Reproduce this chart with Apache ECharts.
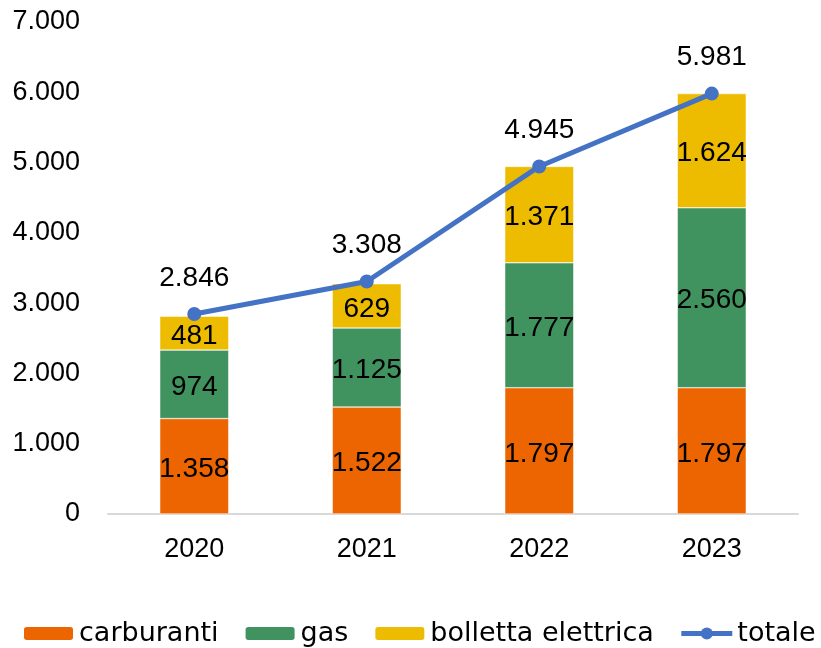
<!DOCTYPE html>
<html>
<head>
<meta charset="utf-8">
<script src="https://cdn.jsdelivr.net/npm/echarts@6/dist/echarts.min.js"></script>
<style>
	html, body { margin: 0; padding: 0; background: #fff; }
	#chart { width: 821px; height: 648px; }
</style>
</head>
<body>
<div id="chart"></div>
<script>
	const anni = ['2020', '2021', '2022', '2023'];
	const carburanti = [1358, 1522, 1797, 1797];
	const gas = [974, 1125, 1777, 2560];
	const bolletta = [481, 629, 1371, 1624];
	const totale = [2846, 3308, 4945, 5981];

	const numFont = '"Liberation Sans", sans-serif';
	const textFont = '"DejaVu Sans", sans-serif';

	// formato italiano: punto per le migliaia
	const fmt = (v) => String(v).replace(/\B(?=(\d{3})+(?!\d))/g, '.');

	const barLabel = {
		show: true,
		position: 'inside',
		offset: [0, 3],
		color: '#000',
		fontSize: 28,
		fontFamily: numFont,
		formatter: (p) => fmt(p.value)
	};

	const myChart = echarts.init(document.getElementById('chart'));
	const option = {
		animation: false,
		textStyle: { fontFamily: numFont },
		grid: {
			left: 108,
			right: 23,
			top: 22,
			bottom: 134,
			containLabel: false
		},
		legend: {
			left: 22,
			top: 620,
			padding: 0,
			itemWidth: 51,
			itemHeight: 15,
			itemGap: 25,
			textStyle: { fontSize: 27, color: '#000', fontFamily: textFont },
			data: ['carburanti', 'gas', 'bolletta elettrica', {
				name: 'totale',
				itemStyle: { color: '#4472c4' },
				lineStyle: { color: '#4472c4', width: 5 }
			}]
		},
		xAxis: {
			type: 'category',
			data: anni,
			axisLine: { lineStyle: { color: '#d9d9d9', width: 2 } },
			axisTick: { show: false },
			axisLabel: { fontSize: 27, color: '#000', margin: 22 }
		},
		yAxis: {
			type: 'value',
			min: 0,
			max: 7000,
			interval: 1000,
			axisLine: { show: false },
			axisTick: { show: false },
			splitLine: { show: false },
			axisLabel: {
				fontSize: 27,
				color: '#000',
				margin: 28,
				formatter: (v) => fmt(v)
			}
		},
		series: [{
				name: 'carburanti',
				type: 'bar',
				stack: 'tot',
				barWidth: '40%',
				data: carburanti,
				itemStyle: { color: '#ec6500', borderColor: '#fff', borderWidth: 0.5 },
				label: barLabel
			},
			{
				name: 'gas',
				type: 'bar',
				stack: 'tot',
				data: gas,
				itemStyle: { color: '#40925e', borderColor: '#fff', borderWidth: 0.5 },
				label: barLabel
			},
			{
				name: 'bolletta elettrica',
				type: 'bar',
				stack: 'tot',
				data: bolletta,
				itemStyle: { color: '#edbc00', borderColor: '#fff', borderWidth: 0.5 },
				label: barLabel
			},
			{
				name: 'totale',
				type: 'line',
				data: totale,
				symbol: 'circle',
				symbolSize: 14,
				lineStyle: { color: '#4472c4', width: 5 },
				itemStyle: { color: '#4472c4' },
				label: {
					show: true,
					position: 'top',
					distance: 15,
					color: '#000',
					fontSize: 28,
					fontFamily: numFont,
					formatter: (p) => fmt(p.value)
				}
			}
		]
	};
	myChart.setOption(option);
</script>
</body>
</html>
